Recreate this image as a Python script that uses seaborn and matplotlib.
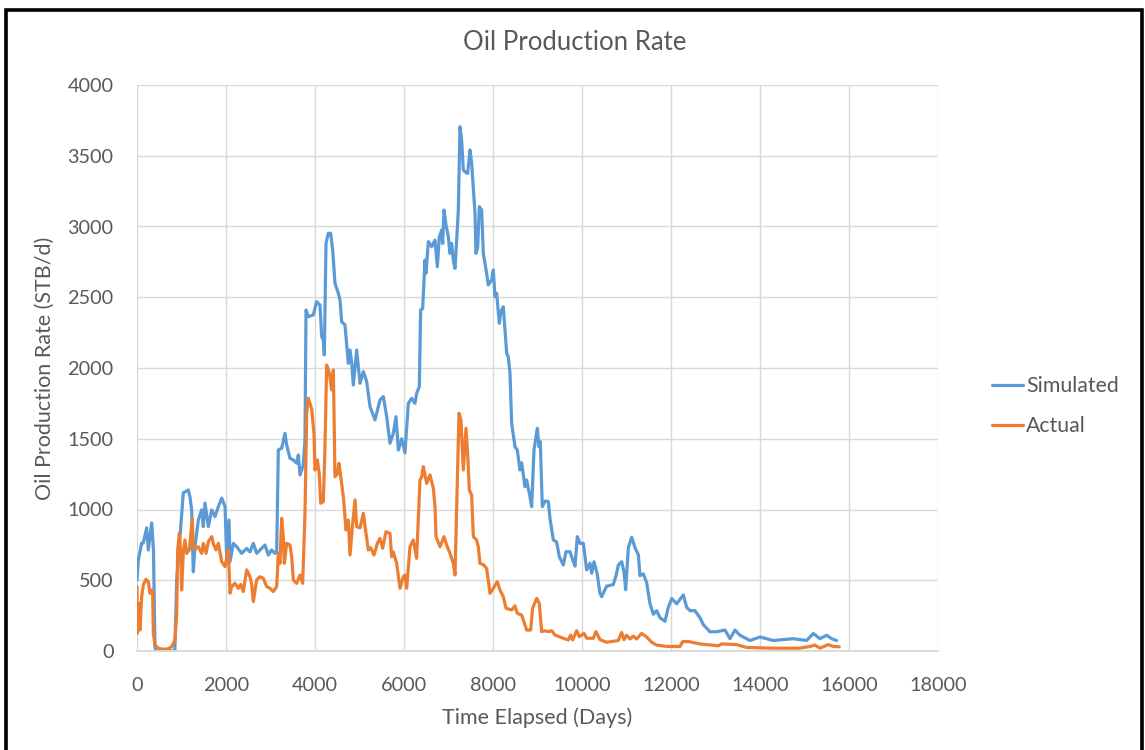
import matplotlib
matplotlib.use("Agg")
import matplotlib.pyplot as plt
from matplotlib.patches import Rectangle
import seaborn as sns

# Simulated oil rate (days, STB/d)
sim_days = [0, 30, 105, 140, 218, 254, 330, 370, 404, 430, 600, 850, 892, 966,
            1040, 1153, 1190, 1228, 1265, 1303, 1378, 1453, 1490, 1528, 1603, 1678,
            1753, 1828, 1903, 1978, 2015, 2067, 2090, 2165, 2240, 2352, 2465, 2540,
            2614, 2689, 2802, 2876, 2951, 3026, 3101, 3139, 3176, 3251, 3326, 3363,
            3438, 3513, 3588, 3626, 3663, 3738, 3775, 3798, 3850, 3962, 4037, 4112,
            4150, 4187, 4209, 4247, 4299, 4352, 4397, 4449, 4524, 4562, 4599, 4674,
            4749, 4787, 4824, 4861, 4936, 5011, 5086, 5161, 5236, 5348, 5461, 5536,
            5611, 5685, 5760, 5820, 5873, 5948, 6022, 6097, 6172, 6247, 6284, 6344,
            6374, 6419, 6472, 6494, 6547, 6621, 6697, 6749, 6794, 6846, 6869, 6899,
            6944, 6996, 7033, 7071, 7108, 7146, 7183, 7221, 7258, 7295, 7333, 7393,
            7430, 7483, 7520, 7595, 7617, 7655, 7693, 7745, 7782, 7857, 7895, 7970,
            8007, 8044, 8082, 8142, 8179, 8232, 8269, 8307, 8344, 8382, 8419, 8494,
            8546, 8606, 8644, 8719, 8756, 8831, 8869, 8921, 8996, 9033, 9063, 9108,
            9168, 9243, 9280, 9355, 9430, 9490, 9580, 9640, 9730, 9805, 9842, 9895,
            9955, 10030, 10105, 10180, 10218, 10270, 10340, 10404, 10442, 10554,
            10704, 10764, 10816, 10891, 10943, 10981, 11041, 11116, 11191, 11266,
            11303, 11378, 11453, 11528, 11603, 11678, 11753, 11865, 11940, 12015,
            12127, 12277, 12352, 12427, 12539, 12651, 12726, 12876, 13026, 13213,
            13326, 13438, 13550, 13775, 14000, 14298, 14747, 15048, 15198, 15347,
            15497, 15610, 15722]
sim_rate = [502, 643, 763, 763, 870, 714, 905, 714, 28, 0, 0, 0, 500, 806,
            1117, 1138, 1090, 997, 560, 737, 926, 997, 879, 1046, 879, 997,
            950, 1020, 1081, 1020, 667, 926, 631, 761, 737, 690, 725, 700,
            761, 690, 725, 749, 678, 714, 690, 700, 1421, 1433, 1539, 1456,
            1362, 1350, 1327, 1386, 1244, 1315, 1500, 2410, 2363, 2375, 2469, 2445,
            2222, 2198, 2092, 2881, 2952, 2952, 2834, 2599, 2528, 2480, 2327, 2304,
            2033, 2127, 2040, 1880, 2127, 1892, 1975, 1904, 1727, 1633, 1774, 1798,
            1656, 1468, 1539, 1656, 1420, 1500, 1400, 1750, 1786, 1750, 1821, 1868,
            2410, 2420, 2763, 2669, 2893, 2857, 2904, 2716, 2927, 2975, 2880, 3117,
            3011, 2927, 2810, 2881, 2763, 2704, 2900, 3117, 3705, 3611, 3399, 3380,
            3375, 3541, 3450, 3093, 2810, 2850, 3140, 3117, 2810, 2669, 2587, 2622,
            2692, 2504, 2528, 2316, 2400, 2433, 2269, 2104, 2080, 1963, 1609, 1444,
            1420, 1279, 1330, 1161, 1208, 1091, 1020, 1421, 1574, 1444, 1480, 1020,
            1060, 1056, 938, 785, 770, 667, 608, 702, 702, 631, 600, 808,
            761, 761, 573, 620, 549, 631, 549, 408, 384, 458,
            470, 532, 606, 631, 560, 433, 730, 804, 730, 681,
            532, 545, 483, 334, 260, 285, 235, 210, 309, 371,
            334, 396, 309, 285, 285, 235, 186, 136, 136, 148,
            87, 148, 111, 74, 99, 74, 87, 74, 124, 87,
            111, 87, 74]

# Actual oil rate (days, STB/d)
act_days = [0, 7, 60, 67, 105, 142, 202, 254, 292, 330, 352, 367, 404, 479, 592,
            704, 779, 854, 892, 914, 951, 981, 1003, 1040, 1078, 1116, 1175, 1243,
            1265, 1303, 1378, 1453, 1490, 1551, 1603, 1678, 1715, 1775, 1828, 1903,
            1978, 2052, 2090, 2127, 2202, 2277, 2330, 2389, 2465, 2540, 2577, 2614,
            2689, 2764, 2839, 2914, 2989, 3064, 3139, 3176, 3214, 3251, 3288, 3311,
            3363, 3438, 3476, 3513, 3588, 3663, 3723, 3775, 3813, 3850, 3925, 3977,
            4000, 4052, 4097, 4127, 4187, 4224, 4262, 4322, 4374, 4412, 4449, 4502,
            4539, 4599, 4637, 4697, 4749, 4787, 4846, 4899, 4936, 5011, 5086, 5146,
            5198, 5251, 5326, 5401, 5461, 5521, 5595, 5685, 5723, 5760, 5835, 5910,
            5985, 6022, 6060, 6135, 6209, 6284, 6359, 6397, 6434, 6509, 6584, 6659,
            6697, 6719, 6809, 6899, 6958, 7033, 7108, 7146, 7183, 7236, 7280, 7333,
            7393, 7430, 7468, 7520, 7558, 7632, 7670, 7707, 7782, 7857, 7932, 8007,
            8097, 8157, 8232, 8292, 8419, 8494, 8546, 8644, 8681, 8756, 8846, 8891,
            8981, 9040, 9093, 9168, 9243, 9318, 9393, 9580, 9693, 9745, 9790, 9880,
            9940, 10045, 10105, 10255, 10315, 10404, 10554, 10816, 10891, 10943,
            11003, 11078, 11153, 11228, 11341, 11453, 11565, 11678, 11903, 12202,
            12262, 12389, 12651, 13063, 13138, 13475, 13700, 14298, 14897, 15123,
            15235, 15347, 15535, 15647, 15782]
act_rate = [455, 125, 337, 148, 384, 467, 507, 490, 408, 431, 408, 125, 42, 19, 12,
            15, 30, 78, 266, 714, 831, 714, 431, 690, 785, 690, 714, 938,
            737, 720, 737, 690, 761, 690, 773, 808, 760, 714, 761, 631,
            596, 714, 408, 455, 478, 443, 470, 420, 573, 525, 470, 349,
            502, 525, 514, 455, 443, 420, 455, 690, 620, 938, 800, 620,
            761, 749, 667, 502, 478, 537, 478, 973, 1680, 1786, 1710, 1539,
            1279, 1350, 1250, 1044, 1056, 1444, 2021, 1963, 1845, 1986, 1232, 1250,
            1326, 1185, 1091, 855, 926, 678, 900, 1067, 879, 870, 973, 831,
            714, 730, 678, 761, 796, 726, 843, 831, 667, 700, 620, 443,
            526, 537, 443, 737, 784, 655, 1208, 1230, 1303, 1185, 1244, 1150,
            1020, 808, 737, 808, 749, 690, 620, 537, 1000, 1680, 1633, 1279,
            1574, 1397, 1138, 1103, 808, 784, 737, 620, 610, 584, 408, 443,
            490, 431, 384, 302, 290, 319, 266, 254, 220, 148, 148, 302,
            372, 337, 137, 143, 137, 143, 113, 90, 78, 113, 78, 143,
            101, 125, 90, 90, 137, 80, 62, 74, 131, 80,
            111, 85, 105, 85, 124, 99, 62, 42, 32, 32,
            67, 67, 50, 37, 50, 45, 25, 20, 20, 32,
            42, 20, 45, 32, 30]

x_ticks = list(range(0, 18001, 2000))
y_ticks = list(range(0, 4001, 500))

sns.set_style("white")
plt.rcParams['font.family'] = ['Lato', 'DejaVu Sans']
text_color = '#595959'
grid_color = '#d9d9d9'

fig = plt.figure(figsize=(11.45, 7.5), dpi=100)
ax = fig.add_axes([137 / 1145, 1 - 651 / 750, 801 / 1145, 566 / 750])

sns.lineplot(x=sim_days, y=sim_rate, ax=ax, color='#5B9BD5', linewidth=2.3,
             label='Simulated', estimator=None, sort=False)
sns.lineplot(x=act_days, y=act_rate, ax=ax, color='#ED7D31', linewidth=2.3,
             label='Actual', estimator=None, sort=False)

ax.set_xlim(0, 18000)
ax.set_ylim(0, 4000)
ax.set_xticks(x_ticks)
ax.set_yticks(y_ticks)
ax.grid(True, color=grid_color, linewidth=1)
ax.set_axisbelow(True)
for side in ['top', 'right', 'left']:
    ax.spines[side].set_visible(False)
ax.spines['bottom'].set_color(grid_color)
ax.spines['bottom'].set_linewidth(1.3)
ax.tick_params(axis='both', length=0, labelsize=14.3, labelcolor=text_color)
ax.tick_params(axis='x', pad=19)
ax.tick_params(axis='y', pad=17)

ax.set_xlabel('Time Elapsed (Days)', fontsize=15.5, color=text_color)
ax.set_ylabel('Oil Production Rate (STB/d)', fontsize=15.5, color=text_color)
ax.xaxis.label.set_verticalalignment('center')
ax.yaxis.label.set_verticalalignment('center')
ax.xaxis.set_label_coords(0.5, (651 - 718) / 566)
ax.yaxis.set_label_coords((45 - 137) / 801, 0.5)

fig.suptitle('Oil Production Rate', x=0.502, y=1 - 43 / 750, va='center',
             fontsize=18.5, color=text_color)

leg = ax.legend(loc='upper left', bbox_to_anchor=(992 / 1145, 1 - 376 / 750),
                bbox_transform=fig.transFigure, frameon=False, fontsize=15.3,
                handlelength=1.46, handletextpad=0.15, labelspacing=0.95,
                borderpad=0, borderaxespad=0)
for t in leg.get_texts():
    t.set_color(text_color)

# black frame around the chart
fig.add_artist(Rectangle((5.5 / 1145, -0.05), (1142 - 5.5) / 1145, 1.05 - 10 / 750,
                         transform=fig.transFigure, fill=False,
                         edgecolor='black', linewidth=2.6, clip_on=False))

fig.savefig('out.png', dpi=100)
plt.close(fig)
